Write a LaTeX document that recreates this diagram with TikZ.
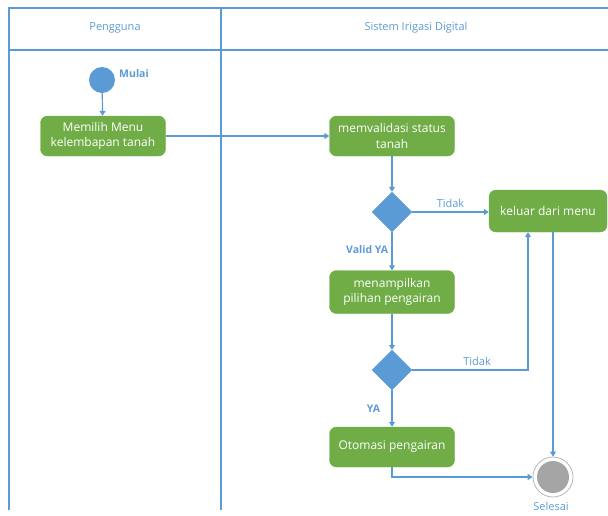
\documentclass[tikz,border=0pt]{standalone}
\usepackage{fontspec}
\setmainfont{Open Sans}
\usetikzlibrary{shapes.geometric,arrows.meta,positioning}
\definecolor{laneblue}{HTML}{5B9BD5}
\definecolor{actgreen}{HTML}{70AD47}
\definecolor{endgray}{HTML}{A5A5A5}
\tikzset{
	act/.style={draw=actgreen, fill=actgreen, rounded corners=7pt, text=white, align=center,
		minimum width=125pt, minimum height=40pt, inner sep=2pt, font=\fontsize{12}{15.5}\selectfont},
	dec/.style={diamond, draw=laneblue, fill=laneblue, minimum width=40pt, minimum height=40pt, inner sep=0pt},
	flow/.style={draw=laneblue, line width=1.2pt, -{Triangle[width=6pt,length=5pt]}},
	lbl/.style={text=laneblue, font=\fontsize{11}{13}\selectfont},
	blbl/.style={lbl, font=\fontsize{10.5}{13}\selectfont\bfseries},
	lane/.style={draw=laneblue, line width=1.1pt}
}
\begin{document}
\begin{tikzpicture}[x=1pt, y=-1pt]
	\useasboundingbox (0,0) rectangle (608,515);
	% swimlanes
	\draw[lane] (9,510) -- (9,8) -- (610,8);
	\draw[lane] (9,50) -- (610,50);
	\draw[lane] (221,8) -- (221,510);
	\node[lbl] (lanea) at (115,28) {Pengguna};
	\node[lbl] (laneb) at (416,28) {Sistem Irigasi Digital};

	% nodes
	\node[circle, fill=laneblue, minimum size=26pt, inner sep=0pt] (mulai) at (102,80) {};
	\node[blbl] (mulaitxt) at (134,74) {Mulai};
	\node[act] (pilih) at (103,136) {Memilih Menu\\kelembapan tanah};
	\node[act] (valid) at (392,136) {memvalidasi status\\tanah};
	\node[dec] (cek1) at (392,212) {};
	\node[act, minimum width=118pt, minimum height=42pt] (keluar) at (548,211) {keluar dari menu};
	\node[act, minimum height=43pt] (tampil) at (392,292) {menampilkan\\pilihan pengairan};
	\node[dec] (cek2) at (392,370) {};
	\node[act] (otomasi) at (392,447) {Otomasi pengairan};
	\node[circle, draw=endgray!80, line width=0.8pt, minimum size=40pt, inner sep=0pt] (selesai) at (553,477) {};
	\node[circle, fill=endgray, minimum size=32pt, inner sep=0pt] (selesaiin) at (selesai) {};
	\node[lbl] (selesaitxt) at (551,506) {Selesai};

	% connectors
	\draw[flow] (mulai) -- (pilih);
	\draw[flow] (pilih) -- (valid);
	\draw[flow] (valid) -- (cek1);
	\draw[flow] (cek1.east) -- node[lbl, above, pos=0.5] {Tidak} (cek1.east -| keluar.west);
	\draw[flow] (cek1) -- node[blbl, left, pos=0.45] {Valid YA} (tampil);
	\draw[flow] (tampil) -- (cek2);
	\draw[flow] (cek2.east) -| node[lbl, above, pos=0.28] {Tidak} ([xshift=-20pt]keluar.south);
	\draw[flow] (cek2) -- node[blbl, left, pos=0.5, xshift=-8pt] {YA} (otomasi);
	\draw[flow] (otomasi.south) |- (selesai.west);
	\draw[flow] (keluar.south -| selesai) -- (selesai.north);
\end{tikzpicture}
\end{document}
